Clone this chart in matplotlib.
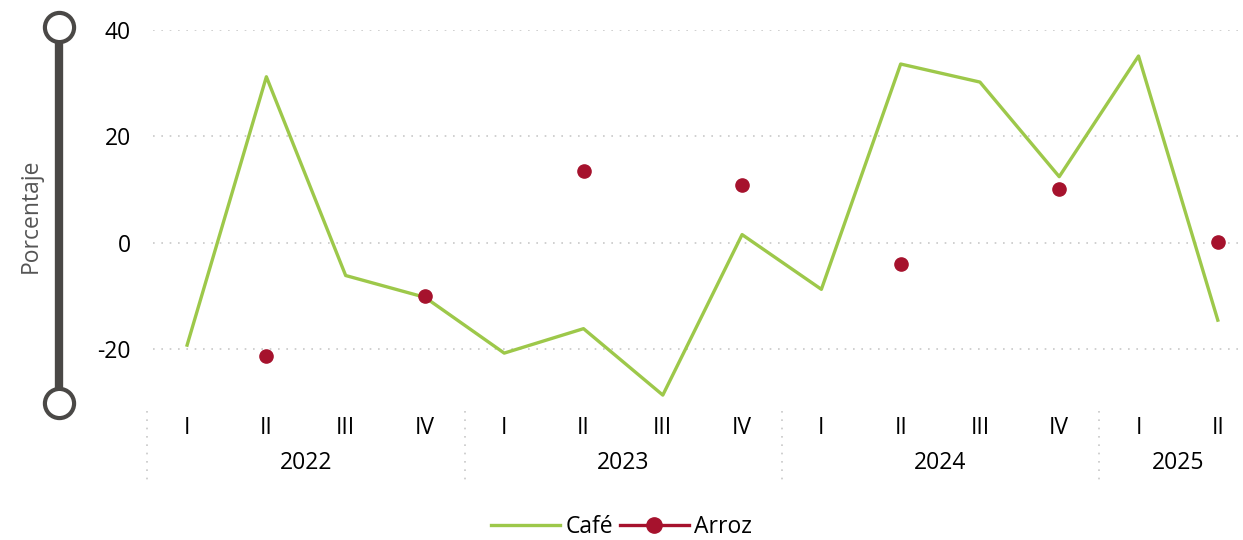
import numpy as np
import matplotlib.pyplot as plt
from matplotlib.lines import Line2D
import matplotlib.transforms as mtrans

plt.rcParams['font.family'] = ['Open Sans', 'DejaVu Sans']

# Datos
trimestres = ['I', 'II', 'III', 'IV', 'I', 'II', 'III', 'IV', 'I', 'II', 'III', 'IV', 'I', 'II']
anios = ['2022', '2023', '2024', '2025']
trim_por_anio = [4, 4, 4, 2]
cafe = [-19.3, 31.2, -6.2, -10.3, -20.8, -16.2, -28.7, 1.5, -8.8, 33.6, 30.2, 12.4, 35.1, -14.6]
arroz = [np.nan, -21.4, np.nan, -10.0, np.nan, 13.5, np.nan, 10.9, np.nan, -4.1, np.nan, 10.0, np.nan, 0.2]

verde = '#9dc84a'
rojo = '#a6122d'
gris = '#4a4846'
fs = 16.5

W, H = 1243, 540
fig = plt.figure(figsize=(W / 100, H / 100), dpi=100)
ax = fig.add_axes([153 / W, 1 - 402 / H, (1240 - 153) / W, (402 - 30) / H])

x = np.arange(len(cafe))
ax.plot(x, cafe, color=verde, lw=2.4)
ax.plot(x, arroz, color=rojo, lw=2.4, marker='o', ms=9.5, ls='None')

ax.set_xlim(-0.43, 13.28)
ax.set_ylim(-30, 40)
ax.set_yticks([-20, 0, 20, 40])
ax.set_yticklabels(['-20', '0', '20', '40'], fontsize=fs)
ax.grid(axis='y', ls=(0, (1, 4)), color='#c8c8c8', lw=1.2)
ax.set_axisbelow(True)
for s in ax.spines.values():
    s.set_visible(False)
ax.tick_params(axis='y', length=0, pad=16)
ax.set_xticks([])

# eje decorativo
trans_fig = fig.transFigure
fig.add_artist(Line2D([59 / W, 59 / W], [1 - 40 / H, 1 - 390 / H], color=gris, lw=6, transform=trans_fig))
for yc in [27, 403]:
    fig.add_artist(Line2D([59 / W], [1 - yc / H], marker='o', ms=21, mfc='white', mec=gris, mew=3,
                          transform=trans_fig))

fig.text(31 / W, 1 - 216 / H, 'Porcentaje', rotation=90, ha='center', va='center', fontsize=fs, color='#555555')

# etiquetas de categorias
tr = mtrans.blended_transform_factory(ax.transData, fig.transFigure)
for i, t in enumerate(trimestres):
    ax.text(i, 1 - 428 / H, t, transform=tr, ha='center', va='center', fontsize=fs)
inicio = 0
sep = [-0.5]
for a, n in zip(anios, trim_por_anio):
    ax.text(inicio + (n - 1) / 2, 1 - 463 / H, a, transform=tr, ha='center', va='center', fontsize=fs)
    inicio += n
    sep.append(inicio - 0.5)
for s in sep[:-1]:
    ax.add_line(Line2D([s, s], [1 - 411 / H, 1 - 485 / H], transform=tr, color='#c8c8c8',
                       ls=(0, (1, 4)), lw=1.2, clip_on=False))

handles = [Line2D([], [], color=verde, lw=2.4),
           Line2D([], [], color=rojo, lw=2.4, marker='o', ms=11)]
fig.legend(handles, ['Café', 'Arroz'], loc='center', bbox_to_anchor=(0.5, 1 - 527 / H), ncol=2,
           frameon=False, fontsize=fs, handlelength=3.0, columnspacing=0.3, handletextpad=0.25)

fig.savefig('out.png', dpi=100)
